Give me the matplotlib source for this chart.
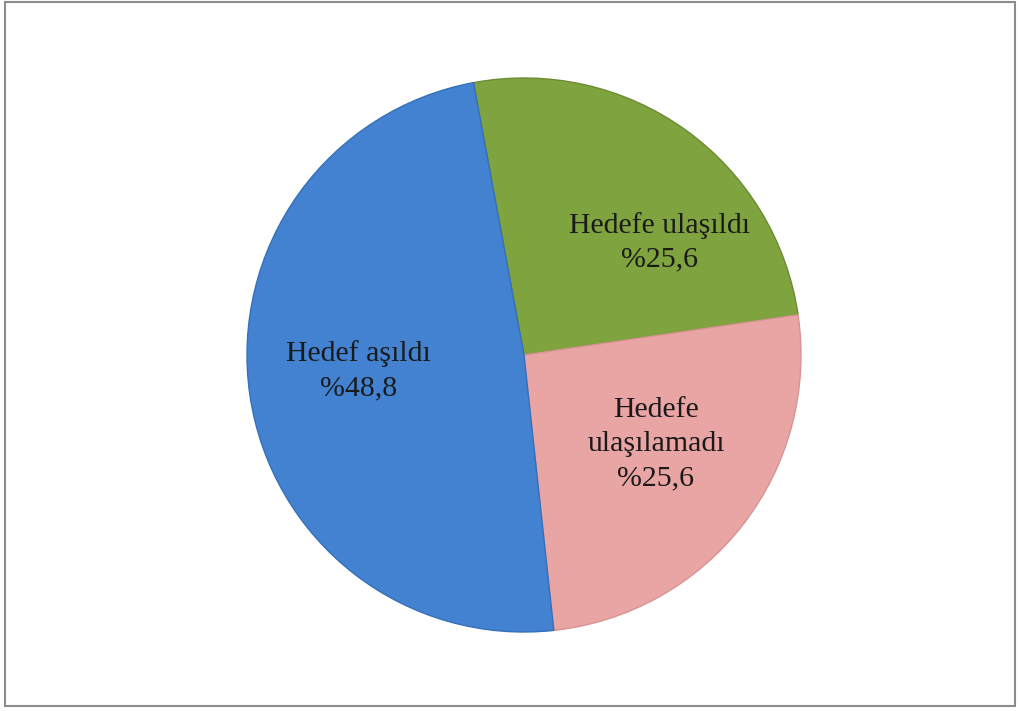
import matplotlib.pyplot as plt
from matplotlib.patches import Rectangle
import numpy as np

labels = ["Hedefe ulaşıldı\n%25,6", "Hedefe\nulaşılamadı\n%25,6", "Hedef aşıldı\n%48,8"]
values = [25.6, 25.6, 48.8]
colors = ["#7FA33F", "#E9A4A4", "#4282D1"]
edges = ["#6B8C33", "#D89494", "#3570BA"]
# label placement: fraction of radius, angle shift from wedge middle (deg)
label_dist = [0.635, 0.575, 0.60]
label_shift = [-14.6, 3.7, -3.0]

plt.rcParams['font.family'] = ['Liberation Serif', 'DejaVu Serif']

fig = plt.figure(figsize=(10.2, 7.11), dpi=100)
ax = fig.add_axes([0, 0, 1, 1])

cx, cy, r = 524, 356, 277
wedges, _ = ax.pie(values, colors=colors, startangle=100.5, counterclock=False,
                   center=(cx, cy), radius=r, frame=True,
                   wedgeprops=dict(linewidth=1.0))
ax.set_xlim(0, 1020)
ax.set_ylim(0, 711)
ax.set_aspect('equal')
ax.axis('off')

for w, ec, lab, d, sh in zip(wedges, edges, labels, label_dist, label_shift):
    w.set_edgecolor(ec)
    mid = np.deg2rad((w.theta1 + w.theta2) / 2 + sh)
    x = cx + d * r * np.cos(mid)
    y = cy + d * r * np.sin(mid)
    ax.text(x, y, lab, ha='center', va='center', fontsize=21.5,
            color='#1a1a1a', linespacing=1.4)

# figure border
fig.patches.append(Rectangle((0.005, 0.007), 0.99, 0.99, transform=fig.transFigure,
                             fill=False, edgecolor='#8c8c8c', linewidth=1.5))

fig.savefig("out.png", dpi=100)
